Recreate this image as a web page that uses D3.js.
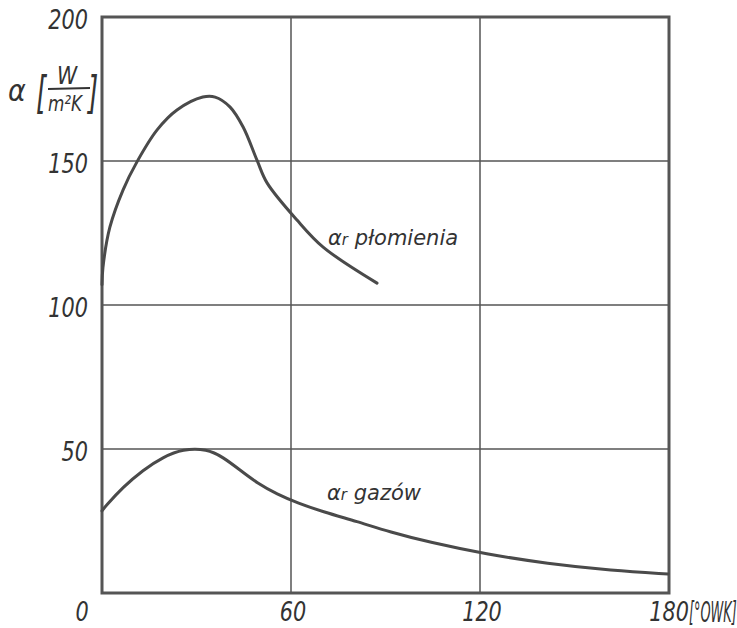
<!DOCTYPE html>
<html>
<head>
<meta charset="utf-8">
<script src="https://cdn.jsdelivr.net/npm/d3@7"></script>
<style>
  body { margin: 0; background: #fff; }
  text { font-family: "DejaVu Sans", sans-serif; font-style: italic; fill: #333; }
</style>
</head>
<body>
<script>
// axis ticks
var xTicks = [0, 60, 120, 180];
var yTicks = [50, 100, 150, 200];

// alpha_r flame curve (x = OWK %, y = W/m2K)
var flameX = [0, 0.3, 2.5, 6.7, 11.1, 17.5, 23.8, 32, 35.9, 40.6, 44.8, 49.2, 52.4, 61.9, 70.2, 87.3];
var flameY = [107, 113, 127, 140, 149.7, 160.8, 167.7, 172.2, 172.2, 168.8, 161.8, 150.3, 142.4, 129.5, 120.1, 107.6];

// alpha_r gases curve
var gasX = [0, 1, 6.7, 13, 19.4, 25.7, 33.3, 38.4, 43.8, 49.2, 55.6, 62.2, 70.2, 81, 91.4, 104, 121.9, 141.3, 162, 179.7];
var gasY = [28.5, 30, 36.8, 42.7, 47.2, 50, 50, 47.2, 42.7, 38.2, 34.3, 31.2, 28.2, 24.8, 21.2, 17.6, 13.5, 10.2, 7.8, 6.6];

var svgWidth = 737;
var svgHeight = 628;

var margin = { top: 17, right: 68, bottom: 35, left: 102 };
var chartWidth = svgWidth - margin.left - margin.right;
var chartHeight = svgHeight - margin.top - margin.bottom;

var svg = d3.select("body")
    .append("svg")
    .attr("width", svgWidth)
    .attr("height", svgHeight);

var chartGroup = svg.append("g")
    .attr("transform", `translate(${margin.left}, ${margin.top})`);

var xScale = d3.scaleLinear().domain([0, 180]).range([0, chartWidth]);
var yScale = d3.scaleLinear().domain([0, 200]).range([chartHeight, 0]);

// narrow handwritten-looking label
function label(parent, x, y, txt, size, anchor, sx) {
    return parent.append("text")
        .attr("transform", `translate(${x}, ${y}) scale(${sx || 0.8}, 1)`)
        .attr("text-anchor", anchor || "start")
        .attr("font-size", size)
        .text(txt);
}

// grid lines
chartGroup.selectAll(".vgrid")
    .data(xTicks.slice(1, -1))
    .enter().append("line")
    .attr("x1", d => xScale(d)).attr("x2", d => xScale(d))
    .attr("y1", 0).attr("y2", chartHeight)
    .attr("stroke", "#555").attr("stroke-width", 1.5);

chartGroup.selectAll(".hgrid")
    .data(yTicks.slice(0, -1))
    .enter().append("line")
    .attr("x1", 0).attr("x2", chartWidth)
    .attr("y1", d => yScale(d)).attr("y2", d => yScale(d))
    .attr("stroke", "#555").attr("stroke-width", 1.5);

// frame
chartGroup.append("rect")
    .attr("width", chartWidth).attr("height", chartHeight)
    .attr("fill", "none").attr("stroke", "#555").attr("stroke-width", 3);

// curves
var line = d3.line()
    .x(d => xScale(d[0]))
    .y(d => yScale(d[1]))
    .curve(d3.curveCatmullRom);

chartGroup.append("path")
    .datum(d3.zip(flameX, flameY))
    .attr("d", line)
    .attr("fill", "none").attr("stroke", "#4a4a4a").attr("stroke-width", 3)
    .attr("stroke-linecap", "round");

chartGroup.append("path")
    .datum(d3.zip(gasX, gasY))
    .attr("d", line.curve(d3.curveBasis))
    .attr("fill", "none").attr("stroke", "#4a4a4a").attr("stroke-width", 3)
    .attr("stroke-linecap", "round");

// y tick labels
yTicks.forEach(function (d) {
    label(chartGroup, -14, yScale(d) + 12, d, 26, "end");
});

// x tick labels
xTicks.forEach(function (d) {
    var x = d == 0 ? xScale(d) - 20 : xScale(d) + 2;
    if (d == 180) x = xScale(d) + 20;
    label(chartGroup, x, chartHeight + 28, d, 26, d == 180 ? "end" : "middle");
});
label(svg, 689, margin.top + chartHeight + 29, "[°OWK]", 28, "start", 0.46);

// curve labels
svg.append("text")
    .attr("x", 328).attr("y", 245)
    .attr("font-size", 21)
    .attr("font-style", "normal")
    .html('α<tspan font-size="15">r</tspan> płomienia');

svg.append("text")
    .attr("x", 327).attr("y", 500)
    .attr("font-size", 21)
    .attr("font-style", "normal")
    .html('α<tspan font-size="15">r</tspan> gazów');

// y axis unit label
var unit = svg.append("g");
label(unit, 8, 101, "α", 30, "start", 0.9);
label(unit, 36, 108, "[", 44, "start", 0.6).attr("font-style", "normal");
label(unit, 88, 108, "]", 44, "start", 0.6).attr("font-style", "normal");
label(unit, 67, 84, "W", 24, "middle", 0.85);
unit.append("line").attr("x1", 48).attr("x2", 90).attr("y1", 89).attr("y2", 88)
    .attr("stroke", "#333").attr("stroke-width", 2);
label(unit, 65, 111, "m²K", 21, "middle", 0.8);
</script>
</body>
</html>
